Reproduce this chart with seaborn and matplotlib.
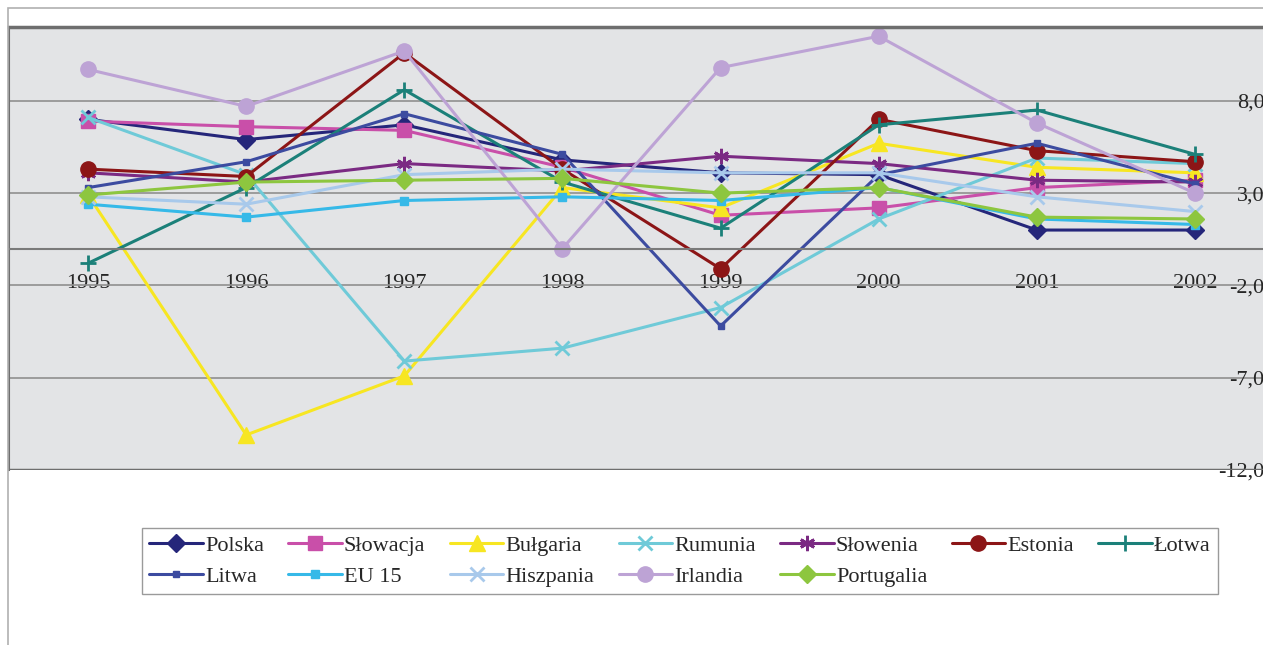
import numpy as np
import pandas as pd
import matplotlib
matplotlib.use('Agg')
import matplotlib.pyplot as plt
from matplotlib.patches import Rectangle
import seaborn as sns

# dane (% zmiany PKB)
years = ['1995', '1996', '1997', '1998', '1999', '2000', '2001', '2002']
polska = [7.0, 5.9, 6.7, 4.8, 4.1, 4.0, 1.0, 1.0]
slowacja = [6.9, 6.6, 6.4, 4.4, 1.8, 2.2, 3.3, 3.7]
bulgaria = [2.9, -10.1, -6.9, 3.3, 2.2, 5.7, 4.4, 4.1]
rumunia = [7.1, 4.0, -6.1, -5.4, -3.2, 1.6, 4.9, 4.6]
slowenia = [4.1, 3.6, 4.6, 4.2, 5.0, 4.6, 3.7, 3.6]
estonia = [4.3, 3.9, 10.6, 4.3, -1.1, 7.0, 5.3, 4.7]
lotwa = [-0.8, 3.3, 8.6, 3.6, 1.1, 6.7, 7.5, 5.1]
litwa = [3.3, 4.7, 7.3, 5.1, -4.2, 4.0, 5.7, 3.5]
eu15 = [2.4, 1.7, 2.6, 2.8, 2.6, 3.3, 1.6, 1.3]
hiszpania = [2.8, 2.4, 4.0, 4.3, 4.1, 4.1, 2.8, 2.0]
irlandia = [9.7, 7.7, 10.7, 0.0, 9.8, 11.5, 6.8, 3.0]
portugalia = [2.9, 3.6, 3.7, 3.8, 3.0, 3.3, 1.7, 1.6]

names = ['Polska', 'Słowacja', 'Bułgaria', 'Rumunia', 'Słowenia', 'Estonia', 'Łotwa',
         'Litwa', 'EU 15', 'Hiszpania', 'Irlandia', 'Portugalia']
series = [polska, slowacja, bulgaria, rumunia, slowenia, estonia, lotwa,
          litwa, eu15, hiszpania, irlandia, portugalia]
colors = ['#25267a', '#c94fa9', '#f7e622', '#6fcad8', '#7b2a83', '#8c1516', '#1b8079',
          '#3c4ba0', '#36b9e8', '#a8c9eb', '#bda3d5', '#8dc63f']
markers = ['D', 's', '^', 'x', (6, 2, 0), 'o', '+',
           's', 's', 'x', 'o', 'D']
msizes = [9, 10, 11, 10, 11, 11, 12, 5, 6, 10, 11, 9]

sns.set_style('white')
plt.rcParams['font.family'] = ['Liberation Serif', 'DejaVu Serif']

fig = plt.figure(figsize=(12.63, 6.45), dpi=100)
ax = fig.add_axes([9 / 1263, 1 - 470 / 645, 1 - 9 / 1263, (470 - 27) / 645])
ax.set_facecolor('#e3e4e6')

x = np.arange(len(years))
handles = {}
for name, vals, c, m, ms in zip(names, series, colors, markers, msizes):
    sns.lineplot(x=x, y=vals, color=c, marker=m, markersize=ms, lw=2.2,
                 markeredgecolor=c, markeredgewidth=2 if m in ('x', '+', (6, 2, 0)) else 1,
                 ax=ax, label=name, legend=False)
    handles[name] = ax.lines[-1]

ax.set_xlim(-0.5, 7.43)
ax.set_ylim(-12, 12)

# siatka pozioma
yt = [-12, -7, -2, 3, 8]
ax.set_yticks(yt)
ax.set_yticklabels([f'{v:.1f}'.replace('.', ',') for v in yt])
ax.yaxis.tick_right()
for lab in ax.get_yticklabels():
    lab.set_horizontalalignment('right')
ax.tick_params(axis='y', length=0, pad=1, labelsize=16)
ax.grid(axis='y', color='#8f8f8f', lw=1.2)
ax.set_axisbelow(True)

# oś kategorii na poziomie zera
ax.spines['bottom'].set_position(('data', 0))
ax.spines['bottom'].set_color('#7a7a7a')
ax.spines['bottom'].set_linewidth(1.5)
ax.set_xticks(x)
ax.set_xticklabels(years)
ax.set_xticks(np.arange(0.5, 7, 1), minor=True)
ax.tick_params(axis='x', which='major', length=0, pad=18, labelsize=16)
ax.tick_params(axis='x', which='minor', length=7, width=1.2, color='#7a7a7a', direction='out')
ax.axhline(-12, color='#6e6e6e', lw=2.5, zorder=5)
ax.spines['top'].set_color('#6e6e6e')
ax.spines['top'].set_linewidth(2.5)
ax.spines['left'].set_color('#6e6e6e')
ax.spines['left'].set_linewidth(1.5)
ax.spines['right'].set_visible(False)

# ramka całego wykresu
fig.patches.append(Rectangle((8 / 1263, -0.05), 1.2, 1 - 8 / 645 + 0.05,
                             transform=fig.transFigure, fill=False,
                             edgecolor='#b0b0b0', lw=1.2))

# legenda: kolejność wierszami (matplotlib wypełnia kolumnami)
order = ['Polska', 'Litwa', 'Słowacja', 'EU 15', 'Bułgaria', 'Hiszpania',
         'Rumunia', 'Irlandia', 'Słowenia', 'Portugalia', 'Estonia', 'Łotwa']
leg = fig.legend([handles[n] for n in order], order, ncol=7,
                 loc='center', bbox_to_anchor=(680 / 1263, 1 - 561 / 645),
                 fontsize=16, frameon=True, fancybox=False, framealpha=1,
                 edgecolor='#9a9a9a', handlelength=2.4, handletextpad=0.1,
                 columnspacing=1.1, labelspacing=0.45, borderpad=0.35)
leg.get_frame().set_linewidth(1.0)

fig.savefig('out.png', dpi=100)
